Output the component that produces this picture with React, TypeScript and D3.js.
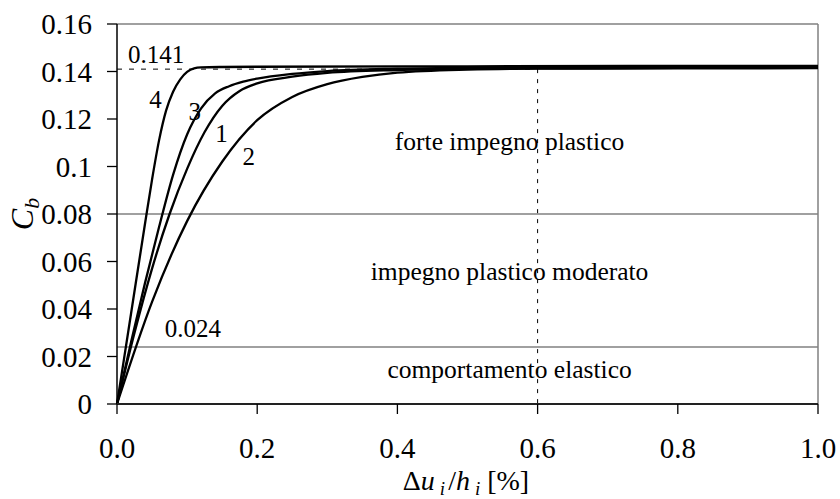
import React from "react";
import * as d3 from "d3";

// Drift ratio Δu_i/h_i [%] and coefficient C_b for the four curves
const curve1X = [0, 0.025, 0.05, 0.075, 0.1, 0.125, 0.15, 0.175, 0.2, 0.25, 0.3, 0.4, 0.5, 0.6, 0.8, 1.0];
const curve1Y = [0, 0.03, 0.057, 0.08, 0.099, 0.1145, 0.1255, 0.1318, 0.135, 0.1378, 0.1394, 0.1406, 0.1411, 0.1413, 0.1415, 0.1416];

const curve2X = [0, 0.05, 0.1, 0.15, 0.2, 0.25, 0.3, 0.35, 0.4, 0.5, 0.6, 0.8, 1.0];
const curve2Y = [0, 0.043, 0.077, 0.102, 0.1195, 0.1293, 0.1347, 0.1377, 0.1395, 0.1408, 0.1412, 0.1413, 0.1414];

const curve3X = [0, 0.02, 0.04, 0.06, 0.08, 0.1, 0.12, 0.14, 0.16, 0.18, 0.2, 0.25, 0.3, 0.4, 0.5, 0.6, 0.8, 1.0];
const curve3Y = [0, 0.026, 0.051, 0.0745, 0.0965, 0.1135, 0.1245, 0.1308, 0.1338, 0.1357, 0.137, 0.139, 0.1402, 0.1412, 0.1416, 0.1418, 0.1419, 0.142];

const curve4X = [0, 0.02, 0.04, 0.05, 0.06, 0.07, 0.08, 0.09, 0.1, 0.11, 0.12, 0.15, 0.2, 0.5, 1.0];
const curve4Y = [0, 0.038, 0.076, 0.0945, 0.111, 0.1235, 0.1315, 0.1366, 0.1398, 0.1413, 0.1417, 0.1419, 0.142, 0.1422, 0.1424];

const curveNames = ["1", "2", "3", "4"];
const curveLabelX = [0.149, 0.188, 0.111, 0.055];
const curveLabelY = [0.1104, 0.1006, 0.1196, 0.1246];

const xTicks = [0, 0.2, 0.4, 0.6, 0.8, 1.0];
const xTickLabels = ["0.0", "0.2", "0.4", "0.6", "0.8", "1.0"];
const yTicks = [0, 0.02, 0.04, 0.06, 0.08, 0.1, 0.12, 0.14, 0.16];
const yTickLabels = ["0", "0.02", "0.04", "0.06", "0.08", "0.1", "0.12", "0.14", "0.16"];

// Limit states
const thresholdElastic = 0.024;
const thresholdModerate = 0.08;
const plateauValue = 0.141;
const plateauDrift = 0.6;

const zoneNames = ["forte impegno plastico", "impegno plastico moderato", "comportamento elastico"];
const zoneLabelX = 0.56;
const zoneLabelY = [0.1069, 0.0522, 0.0109];

const W = 840;
const H = 499;
const margin = { left: 117, right: 22, top: 24, bottom: 95 };

const FONT = "Liberation Serif, DejaVu Serif, serif";
const txt = { fontFamily: FONT };

export default function App() {
  const x = d3.scaleLinear().domain([0, 1]).range([margin.left, W - margin.right]);
  const y = d3.scaleLinear().domain([0, 0.16]).range([H - margin.bottom, margin.top]);

  const series = [
    { xs: curve1X, ys: curve1Y },
    { xs: curve2X, ys: curve2Y },
    { xs: curve3X, ys: curve3Y },
    { xs: curve4X, ys: curve4Y },
  ];

  const line = d3
    .line<[number, number]>()
    .x((d) => x(d[0]))
    .y((d) => y(d[1]))
    .curve(d3.curveMonotoneX);

  const x0 = x(0);
  const x1 = x(1);
  const y0 = y(0);
  const yTop = y(0.16);

  return (
    <svg
      width={W}
      height={H}
      style={{ position: "absolute", left: 0, top: 0, background: "#fff" }}
    >
      {/* frame */}
      <line x1={x0} x2={x1} y1={yTop} y2={yTop} stroke="#808080" strokeWidth={1.5} />
      <line x1={x1} x2={x1} y1={yTop} y2={y0} stroke="#808080" strokeWidth={1.5} />

      {/* limit-state lines */}
      <line x1={x0} x2={x1} y1={y(thresholdModerate)} y2={y(thresholdModerate)} stroke="#808080" strokeWidth={1.5} />
      <line x1={x0} x2={x1} y1={y(thresholdElastic)} y2={y(thresholdElastic)} stroke="#808080" strokeWidth={1.5} />
      <line
        x1={x0}
        x2={x(plateauDrift)}
        y1={y(plateauValue)}
        y2={y(plateauValue)}
        stroke="#000"
        strokeWidth={1}
        strokeDasharray="5 7"
      />
      <line
        x1={x(plateauDrift)}
        x2={x(plateauDrift)}
        y1={y(plateauValue)}
        y2={y0}
        stroke="#000"
        strokeWidth={1}
        strokeDasharray="4 6"
      />

      {/* curves */}
      {series.map((s, i) => (
        <path
          key={i}
          d={line(s.xs.map((v, j) => [v, s.ys[j]] as [number, number])) || ""}
          fill="none"
          stroke="#000"
          strokeWidth={2.3}
        />
      ))}

      {/* axes */}
      <line x1={x0} x2={x0} y1={yTop} y2={y0} stroke="#000" strokeWidth={1.5} />
      <line x1={x0} x2={x1} y1={y0} y2={y0} stroke="#222" strokeWidth={1.8} />
      {yTicks.map((t, i) => (
        <g key={"y" + i}>
          <line x1={x0 - 10} x2={x0} y1={y(t)} y2={y(t)} stroke="#000" strokeWidth={1.3} />
          <text x={92} y={y(t)} dy="0.35em" textAnchor="end" fontSize={29} fill="#000" style={txt}>
            {yTickLabels[i]}
          </text>
        </g>
      ))}
      {xTicks.map((t, i) => (
        <g key={"x" + i}>
          <line x1={x(t)} x2={x(t)} y1={y0} y2={y0 + 10} stroke="#000" strokeWidth={1.3} />
          <text x={x(t)} y={458} textAnchor="middle" fontSize={29} fill="#000" style={txt}>
            {xTickLabels[i]}
          </text>
        </g>
      ))}

      {/* curve labels */}
      {curveNames.map((n, i) => (
        <text
          key={"c" + i}
          x={x(curveLabelX[i])}
          y={y(curveLabelY[i])}
          textAnchor="middle"
          fontSize={25}
          fill="#000"
          style={txt}
        >
          {n}
        </text>
      ))}

      {/* value labels */}
      <text x={x(0.0157)} y={y(0.1436)} fontSize={25} fill="#000" style={txt}>
        {plateauValue.toFixed(3)}
      </text>
      <text x={x(0.068)} y={y(0.0282)} fontSize={25} fill="#000" style={txt}>
        {thresholdElastic.toFixed(3)}
      </text>

      {/* zone labels */}
      {zoneNames.map((z, i) => (
        <text
          key={"z" + i}
          x={x(zoneLabelX)}
          y={y(zoneLabelY[i])}
          textAnchor="middle"
          fontSize={25.5}
          fill="#000"
          style={txt}
        >
          {z}
        </text>
      ))}

      {/* axis titles */}
      <text x={466} y={490} textAnchor="middle" fontSize={28} fill="#000" style={txt}>
        <tspan>Δ</tspan>
        <tspan fontStyle="italic">u</tspan>
        <tspan fontStyle="italic" fontSize={19} dx={5} dy={5}>i</tspan>
        <tspan dx={3} dy={-5}>/</tspan>
        <tspan fontStyle="italic">h</tspan>
        <tspan fontStyle="italic" fontSize={19} dx={5} dy={5}>i</tspan>
        <tspan dy={-5}> [%]</tspan>
      </text>
      <text
        transform={`translate(33, ${(yTop + y0) / 2}) rotate(-90)`}
        textAnchor="middle"
        fontSize={32}
        fill="#000"
        style={txt}
      >
        <tspan fontStyle="italic">C</tspan>
        <tspan fontStyle="italic" fontSize={22} dy={6}>b</tspan>
      </text>
    </svg>
  );
}
